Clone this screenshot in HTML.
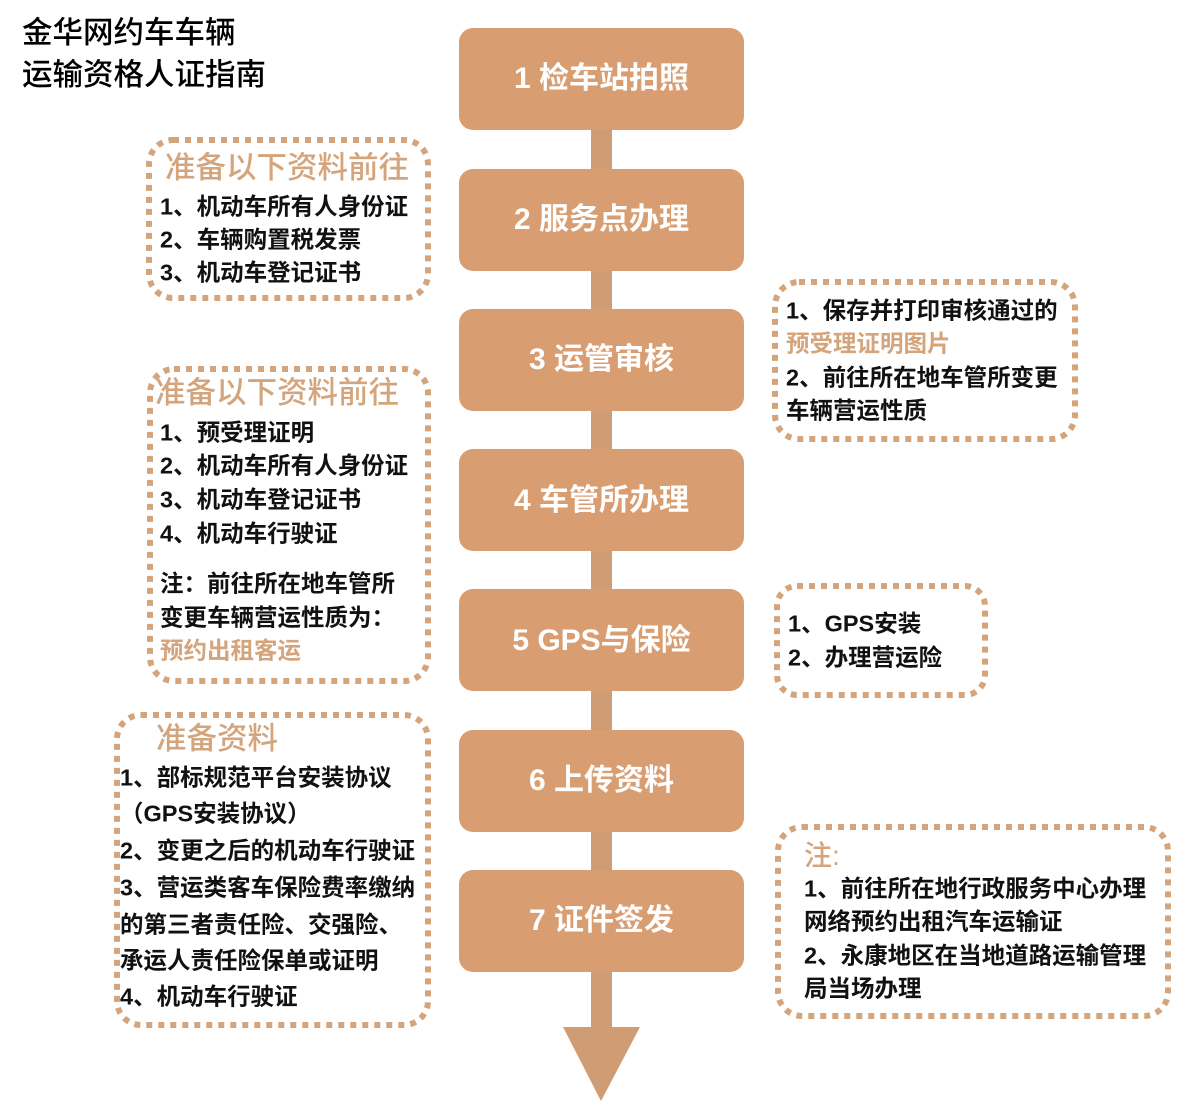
<!DOCTYPE html>
<html><head><meta charset="utf-8"><style>
body{margin:0;width:1188px;height:1106px;background:#fff;position:relative;overflow:hidden;font-family:"Liberation Sans","Noto Sans CJK SC",sans-serif;}
.t{position:absolute;white-space:nowrap;line-height:1;transform:translateY(-50%);}
.s{font-size:23.5px;color:#111;font-weight:bold;}
.h{font-size:30.5px;color:#d4a57c;font-weight:500;}
.tan{color:#d4a57c;}
.m{position:absolute;left:459px;width:285px;font-size:30px;color:#fff;font-weight:bold;text-align:center;line-height:1;transform:translateY(-50%);}
</style></head><body>
<svg width="1188" height="1106" style="position:absolute;left:0;top:0">
<rect x="591" y="100" width="21" height="940" fill="#d09c74"/>
<polygon points="563,1027 640,1027 601,1101" fill="#d09c74"/>
<g fill="#d99d72">
<rect x="459" y="28" width="285" height="102" rx="14"/>
<rect x="459" y="169" width="285" height="102" rx="14"/>
<rect x="459" y="309" width="285" height="102" rx="14"/>
<rect x="459" y="449" width="285" height="102" rx="14"/>
<rect x="459" y="589" width="285" height="102" rx="14"/>
<rect x="459" y="730" width="285" height="102" rx="14"/>
<rect x="459" y="870" width="285" height="102" rx="14"/>
</g>
<g fill="none" stroke="#d4a57c" stroke-width="6" stroke-dasharray="6 6">
<rect x="149" y="140" width="279" height="158" rx="24"/>
<rect x="150" y="369" width="278" height="312" rx="24"/>
<rect x="117" y="715" width="311" height="310" rx="24"/>
<rect x="775" y="282" width="300" height="157" rx="24"/>
<rect x="777" y="586" width="208" height="109" rx="20"/>
<rect x="778" y="827" width="390" height="189" rx="24"/>
</g>
</svg>
<div class="t" style="left:22px;top:33px;font-size:30.5px;font-weight:500">金华网约车车辆</div>
<div class="t" style="left:22px;top:75px;font-size:30.5px;font-weight:500">运输资格人证指南</div>

<div class="m" style="top:79px">1 检车站拍照</div>
<div class="m" style="top:220px">2 服务点办理</div>
<div class="m" style="top:360px">3 运管审核</div>
<div class="m" style="top:501px">4 车管所办理</div>
<div class="m" style="top:641px">5 GPS与保险</div>
<div class="m" style="top:781px">6 上传资料</div>
<div class="m" style="top:921px">7 证件签发</div>

<div class="t h" style="left:165px;top:168px">准备以下资料前往</div>
<div class="t s" style="left:160px;top:207px">1、机动车所有人身份证</div>
<div class="t s" style="left:160px;top:240px">2、车辆购置税发票</div>
<div class="t s" style="left:160px;top:273px">3、机动车登记证书</div>

<div class="t h" style="left:155px;top:393px">准备以下资料前往</div>
<div class="t s" style="left:160px;top:433px">1、预受理证明</div>
<div class="t s" style="left:160px;top:466px">2、机动车所有人身份证</div>
<div class="t s" style="left:160px;top:500px">3、机动车登记证书</div>
<div class="t s" style="left:160px;top:534px">4、机动车行驶证</div>
<div class="t s" style="left:160px;top:584px">注：前往所在地车管所</div>
<div class="t s" style="left:160px;top:618px">变更车辆营运性质为：</div>
<div class="t s tan" style="left:160px;top:651px">预约出租客运</div>

<div class="t h" style="left:156px;top:739px">准备资料</div>
<div class="t s" style="left:120px;top:778px">1、部标规范平台安装协议</div>
<div class="t s" style="left:120px;top:814px">（GPS安装协议）</div>
<div class="t s" style="left:120px;top:851px">2、变更之后的机动车行驶证</div>
<div class="t s" style="left:120px;top:888px">3、营运类客车保险费率缴纳</div>
<div class="t s" style="left:120px;top:925px">的第三者责任险、交强险、</div>
<div class="t s" style="left:120px;top:961px">承运人责任险保单或证明</div>
<div class="t s" style="left:120px;top:997px">4、机动车行驶证</div>

<div class="t s" style="left:786px;top:311px">1、保存并打印审核通过的</div>
<div class="t s tan" style="left:786px;top:344px">预受理证明图片</div>
<div class="t s" style="left:786px;top:378px">2、前往所在地车管所变更</div>
<div class="t s" style="left:786px;top:411px">车辆营运性质</div>

<div class="t s" style="left:788px;top:624px">1、GPS安装</div>
<div class="t s" style="left:788px;top:658px">2、办理营运险</div>

<div class="t h" style="left:804px;top:856px;font-size:28px">注:</div>
<div class="t s" style="left:804px;top:889px">1、前往所在地行政服务中心办理</div>
<div class="t s" style="left:804px;top:922px">网络预约出租汽车运输证</div>
<div class="t s" style="left:804px;top:956px">2、永康地区在当地道路运输管理</div>
<div class="t s" style="left:804px;top:989px">局当场办理</div>
</body></html>
